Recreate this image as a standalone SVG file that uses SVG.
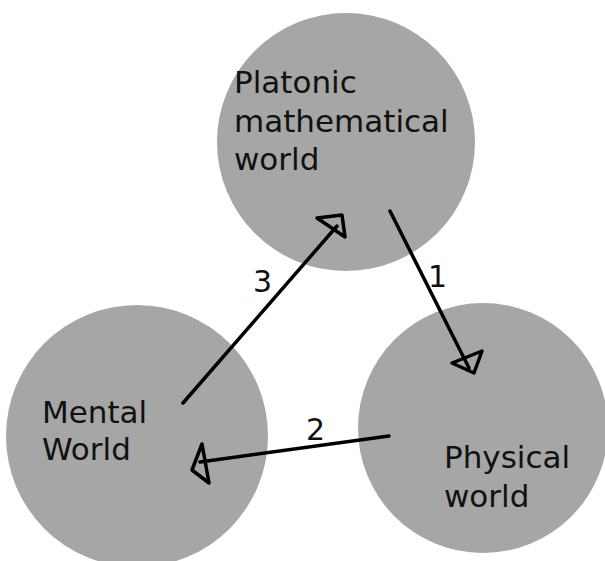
<svg xmlns="http://www.w3.org/2000/svg" width="605" height="561" viewBox="0 0 605 561">
<style>
.c{fill:#a6a6a6}
.t{font-family:"DejaVu Sans",sans-serif;font-size:31px;fill:#111}
.n{font-family:"DejaVu Sans",sans-serif;font-size:30px;fill:#111}
.a{stroke:#000;stroke-width:3.5;fill:none;stroke-linejoin:round;stroke-linecap:round}
</style>
<rect width="605" height="561" fill="#fff"/>
<g id="platonic">
<circle class="c" cx="346" cy="142" r="129"/>
<text class="t" x="234" y="93">Platonic</text>
<text class="t" x="234" y="132">mathematical</text>
<text class="t" x="234" y="170">world</text>
</g>
<g id="mental">
<circle class="c" cx="137" cy="436" r="131"/>
<text class="t" x="42" y="423">Mental</text>
<text class="t" x="42" y="460">World</text>
</g>
<g id="physical">
<circle class="c" cx="483" cy="428" r="125"/>
<text class="t" x="444" y="468">Physical</text>
<text class="t" x="444" y="507">world</text>
</g>
<g id="connectors">
<path class="a" d="M390 211 L469 368"/>
<path class="a" d="M452 363 L482 351 L474 373 Z"/>
<text class="n" x="428" y="287">1</text>
<path class="a" d="M389 436 L200 462"/>
<path class="a" d="M202 444 L192 470 L209 483 Z"/>
<text class="n" x="306" y="440">2</text>
<path class="a" d="M183 403 L337 226"/>
<path class="a" d="M317 218 L342 215 L345 237 Z"/>
<text class="n" x="253" y="292">3</text>
</g>
</svg>
